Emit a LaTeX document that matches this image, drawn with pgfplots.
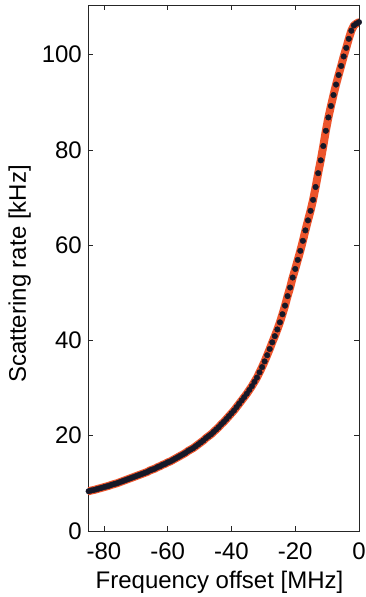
\documentclass[border=0pt]{standalone}
\usepackage{pgfplots}
\pgfplotsset{compat=1.18}
\usepackage{pgfplotstable}
\usepackage{fontspec}
\setmainfont{Liberation Sans}
\definecolor{fitred}{RGB}{236,84,44}
\definecolor{dotc}{RGB}{22,24,40}
\pgfplotstableread{
x y
0.0 106.8
-0.8 106.5
-1.6 106.1
-2.4 105.0
-3.2 103.3
-4.0 101.4
-4.8 99.6
-5.6 97.6
-6.4 95.7
-7.2 93.7
-8.0 91.5
-8.8 89.2
-9.6 86.8
-10.4 84.0
-11.2 80.8
-12.0 77.8
-12.8 75.1
-13.6 72.2
-14.4 69.5
-15.2 67.2
-16.0 65.2
-16.8 63.1
-17.6 60.9
-18.4 58.8
-19.2 56.9
-20.0 55.0
-20.8 53.2
-21.6 51.1
-22.4 49.3
-23.2 47.3
-24.0 45.5
-24.8 43.8
-25.6 42.3
-26.4 40.9
-27.2 39.6
-28.0 38.2
-28.8 36.9
-29.6 35.6
-30.4 34.4
-31.2 33.3
-32.0 32.2
-32.8 31.3
-33.6 30.4
-34.4 29.6
-35.2 28.8
-36.0 28.1
-36.8 27.4
-37.6 26.7
-38.4 26.0
-39.2 25.3
-40.0 24.7
-40.8 24.1
-41.6 23.5
-42.4 22.9
-43.2 22.4
-44.0 21.8
-44.8 21.3
-45.6 20.8
-46.4 20.3
-47.2 19.9
-48.0 19.5
-48.8 19.0
-49.6 18.6
-50.4 18.2
-51.2 17.8
-52.0 17.4
-52.8 17.1
-53.6 16.8
-54.4 16.4
-55.2 16.1
-56.0 15.8
-56.8 15.5
-57.6 15.2
-58.4 14.9
-59.2 14.6
-60.0 14.4
-60.8 14.1
-61.6 13.9
-62.4 13.6
-63.2 13.4
-64.0 13.1
-64.8 12.9
-65.6 12.7
-66.4 12.4
-67.2 12.2
-68.0 12.0
-68.8 11.8
-69.6 11.6
-70.4 11.4
-71.2 11.2
-72.0 11.0
-72.8 10.8
-73.6 10.6
-74.4 10.4
-75.2 10.2
-76.0 10.0
-76.8 9.85
-77.6 9.7
-78.4 9.5
-79.2 9.35
-80.0 9.2
-80.8 9.05
-81.6 8.9
-82.4 8.75
-83.2 8.6
-84.0 8.5
-84.8 8.35
}\rate
\begin{document}
\begin{tikzpicture}
\begin{axis}[
  scale only axis, width=271pt, height=526pt,
  xmin=-85, xmax=0, ymin=0, ymax=110.4,
  xtick={-80,-60,-40,-20,0}, ytick={0,20,40,60,80,100},
  tick align=inside, major tick length=5pt,
  axis line style={black!85, line width=0.6pt},
  tick style={black!85, line width=0.6pt},
  /pgf/number format/assume math mode=true,
  tick label style={font=\fontsize{24}{28}\selectfont},
  label style={font=\fontsize{24}{28}\selectfont},
  yticklabel style={anchor=east, inner sep=0pt, xshift=-6pt},
  xticklabel style={anchor=north, inner sep=0pt, yshift=-12pt},
  xlabel={Frequency offset [MHz]},
  ylabel={Scattering rate [kHz]},
  xlabel style={at={(axis description cs:0.5,0)}, anchor=north, inner sep=0pt, yshift=-40pt, xshift=-4pt},
  ylabel style={at={(axis description cs:-0.21,0.4886)}, anchor=south, inner sep=0pt},
]
\addplot[fitred, line width=8pt, line join=round, line cap=round] table[x=x,y=y] {\rate};
\addplot[only marks, mark=*, mark size=2.8pt, dotc] table[x=x,y=y] {\rate};
\end{axis}
\pgfresetboundingbox
\path (-88pt,-66pt) rectangle (277pt,531pt);
\end{tikzpicture}
\end{document}
